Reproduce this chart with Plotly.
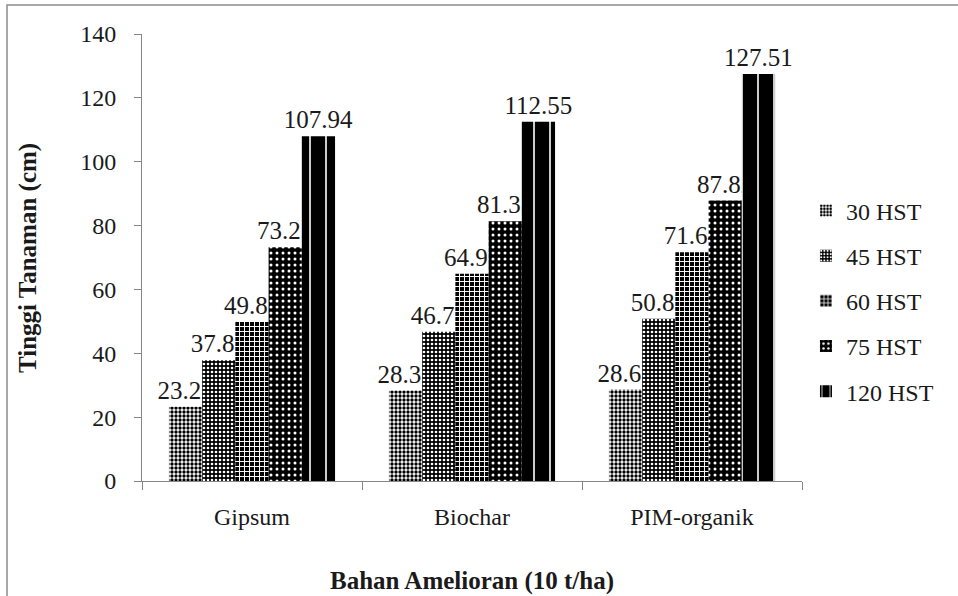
import plotly.graph_objects as go

# Plant height by ameliorant and observation day
categories = ["Gipsum", "Biochar", "PIM-organik"]
series_names = ["30 HST", "45 HST", "60 HST", "75 HST", "120 HST"]
hst_30 = [23.22, 28.31, 28.63]
hst_45 = [37.81, 46.72, 50.83]
hst_60 = [49.83, 64.92, 71.64]
hst_75 = [73.21, 81.35, 87.82]
hst_120 = [107.94, 112.55, 127.51]
y_ticks = [0, 20, 40, 60, 80, 100, 120, 140]

series_values = [hst_30, hst_45, hst_60, hst_75, hst_120]

# Monochrome fill patterns, one per series
patterns = [
    dict(shape=".", bgcolor="white", fgcolor="black", size=4, solidity=0.55),
    dict(shape=".", bgcolor="black", fgcolor="white", size=4, solidity=0.35),
    dict(shape="+", bgcolor="black", fgcolor="white", size=5, solidity=0.35),
    dict(shape=".", bgcolor="black", fgcolor="white", size=6, solidity=0.2),
    dict(shape="|", bgcolor="black", fgcolor="white", size=16, solidity=0.1),
]

SERIF = "Liberation Serif, Times New Roman, serif"
TXT = "#1a1a1a"
FS = 24

# plot area in pixels
L, R, T, B = 142, 156, 34, 115
PW, PH = 958 - L - R, 596 - T - B

fig = go.Figure()
for i, (name, vals, pat) in enumerate(zip(series_names, series_values, patterns)):
    fig.add_trace(go.Bar(
        name=name,
        x=categories,
        y=vals,
        text=[f"{v:.2f}" for v in vals],
        textposition="outside",
        constraintext="none",
        cliponaxis=False,
        textfont=dict(family=SERIF, size=25, color=TXT),
        marker=dict(color="black", line=dict(width=0), pattern=dict(fillmode="replace", **pat)),
        legendgroup=f"g{i}",
    ))

fig.update_layout(
    width=958,
    height=596,
    barmode="group",
    bargap=0.245,
    bargroupgap=0,
    plot_bgcolor="white",
    paper_bgcolor="white",
    margin=dict(l=L, r=R, t=T, b=B, autoexpand=False),
    font=dict(family=SERIF, size=FS, color=TXT),
    legend=dict(
        x=1.006, y=0.403, xanchor="left", yanchor="middle",
        traceorder="grouped", tracegroupgap=11,
        font=dict(family=SERIF, size=FS, color=TXT),
        itemwidth=30,
        bgcolor="rgba(0,0,0,0)",
    ),
    xaxis=dict(
        automargin=False,
        showline=True, linecolor="#868686", linewidth=1,
        ticks="outside", ticklen=8, tickcolor="#868686",
        tickson="boundaries",
        ticklabelstandoff=14,
        tickfont=dict(family=SERIF, size=FS, color=TXT),
    ),
    yaxis=dict(
        automargin=False,
        range=[0, 140],
        tickvals=y_ticks,
        showline=True, linecolor="#868686", linewidth=1,
        ticks="outside", ticklen=7, tickcolor="#868686",
        ticklabelstandoff=13,
        showgrid=False, zeroline=False,
        tickfont=dict(family=SERIF, size=FS, color=TXT),
    ),
    annotations=[
        dict(text="<b>Bahan Amelioran (10 t/ha)</b>", xref="paper", yref="paper",
             x=0.5, y=-(581 - (T + PH)) / PH, xanchor="center", yanchor="middle",
             showarrow=False, font=dict(family=SERIF, size=25, color=TXT)),
        dict(text="<b>Tinggi Tanaman (cm)</b>", xref="paper", yref="paper",
             x=(28 - L) / PW, y=(T + PH - 258) / PH, xanchor="center", yanchor="middle",
             textangle=-90, showarrow=False, font=dict(family=SERIF, size=25, color=TXT)),
    ],
    shapes=[
        dict(type="rect", xref="paper", yref="paper",
             x0=(7 - L) / PW, x1=1.5, y0=-0.5, y1=1 + (T - 5) / PH,
             line=dict(color="#8c8c8c", width=1.5), fillcolor="rgba(0,0,0,0)",
             layer="below"),
    ],
)

fig.write_html("out.html")
